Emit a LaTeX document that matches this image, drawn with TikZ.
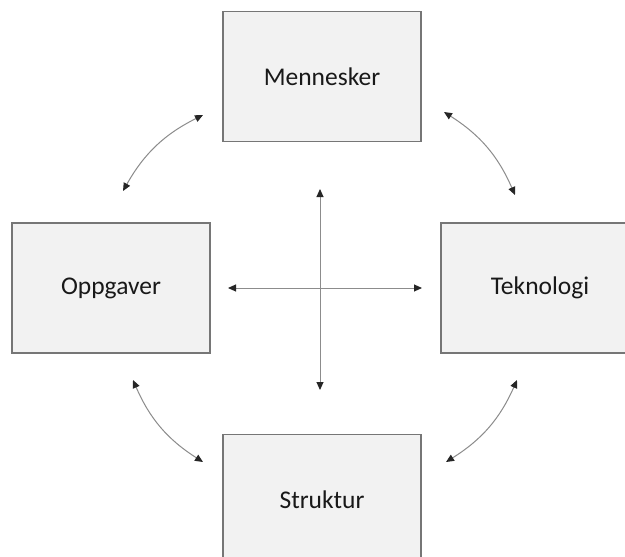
\documentclass[tikz,border=0pt]{standalone}
\usepackage{fontspec}
\setmainfont{Carlito}
\usetikzlibrary{arrows.meta}
\definecolor{boxfill}{HTML}{F2F2F2}
\definecolor{boxline}{HTML}{767676}
\definecolor{linkline}{HTML}{8C8C8C}
\definecolor{tipcol}{HTML}{262626}
\begin{document}
\begin{tikzpicture}[x=1pt,y=-1pt,
  topic/.style={draw=boxline, fill=boxfill, line width=1.2pt,
    minimum width=198pt, minimum height=130pt, inner sep=0pt,
    font=\fontsize{25.5}{30}\selectfont, text=black!90},
  link/.style={draw=linkline, line width=1pt,
    {Triangle[length=8pt,width=7pt,fill=tipcol,color=tipcol]}-{Triangle[length=8pt,width=7pt,fill=tipcol,color=tipcol]}}]
\useasboundingbox (0,0) rectangle (625,557);
\clip (0,0) rectangle (625,557);
\fill[white] (0,0) rectangle (625,557);

% the four boxes
\node[topic] (men) at (322,76.5) {Mennesker};
\node[topic] (opp) at (111,288) {Oppgaver};
\node[topic] (tek) at (540,288) {Teknologi};
\node[topic] (str) at (322,499.5) {Struktur};

% ends of the central cross
\coordinate (cN) at (320,189);
\coordinate (cS) at (320,390);
\coordinate (cW) at (228,288);
\coordinate (cE) at (422,288);

% ends of the curved links between neighbouring boxes
\coordinate (nwA) at (203,115);
\coordinate (nwB) at (123,191);
\coordinate (neA) at (444,112);
\coordinate (neB) at (515,195);
\coordinate (swA) at (133,380);
\coordinate (swB) at (203,462);
\coordinate (seA) at (517,380);
\coordinate (seB) at (446,462);

\draw[link] (cN) -- (cS);
\draw[link] (cW) -- (cE);

\draw[link] (nwA) to[bend right=17] (nwB);
\draw[link] (neA) to[bend left=17] (neB);
\draw[link] (swA) to[bend right=17] (swB);
\draw[link] (seA) to[bend left=17] (seB);
\end{tikzpicture}
\end{document}
